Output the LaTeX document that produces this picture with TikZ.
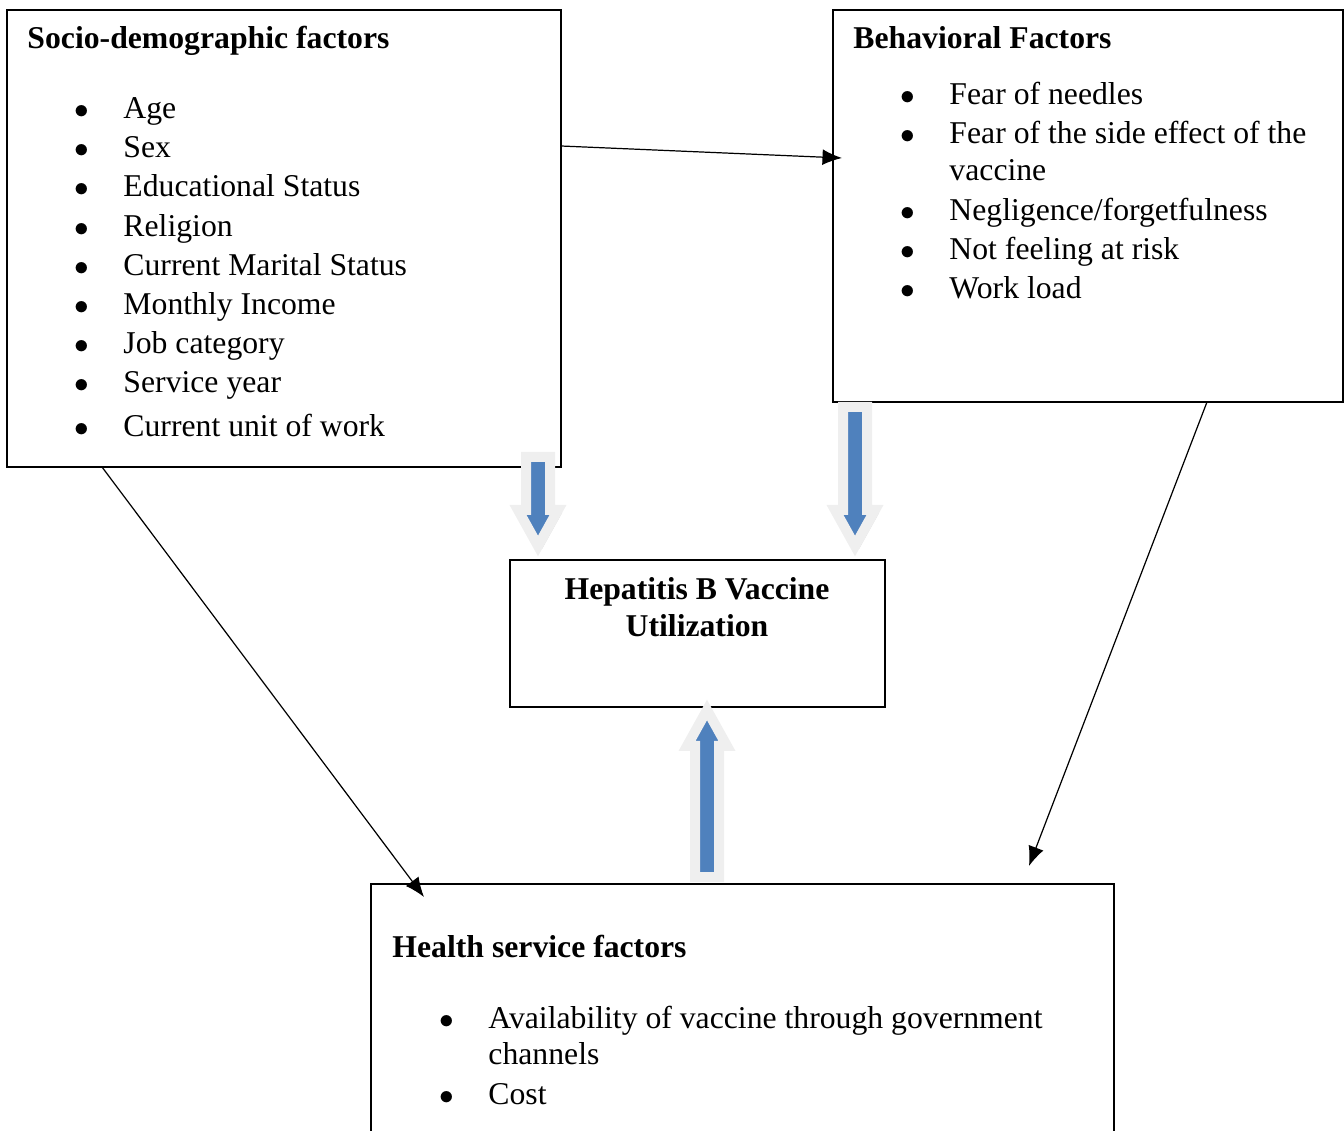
\documentclass[tikz,border=0pt]{standalone}
\usepackage{fontspec}
\setmainfont{Liberation Serif}
\usepackage{xcolor}
\usetikzlibrary{arrows.meta,positioning,calc}
\definecolor{mblue}{HTML}{4F81BD}
\definecolor{mgrey}{HTML}{EFEFEF}
\newcommand{\pxu}{0.41pt}
\tikzstyle{l2}=[line width=0.6pt]
\tikzstyle{box}=[rectangle, draw=black, l2, inner sep=0pt]
\tikzstyle{txt}=[anchor=base west, inner sep=0pt, font=\fontsize{13}{15}\selectfont]
\tikzstyle{ttl}=[txt, font=\fontsize{13}{15}\selectfont\bfseries]
\tikzstyle{bul}=[anchor=base, inner sep=0pt, font=\fontsize{12}{14}\selectfont]
\tikzstyle{conn}=[line width=0.5pt, -{Latex[length=8pt,width=6.5pt]}]
\tikzstyle{blk}=[fill=mblue, draw=mgrey, line width=4.1pt, line join=miter]
\tikzstyle{blkshadow}=[fill=black, opacity=0.15]

\begin{document}
\begin{tikzpicture}[x=\pxu, y=-\pxu]
    \useasboundingbox (0,0) rectangle (1344,1131);
    \clip (0,0) rectangle (1344,1131);

    % boxes
    \node[box, minimum width=554*\pxu, minimum height=457*\pxu] at (284,238.5) (socio) {};
    \node[box, minimum width=510*\pxu, minimum height=392*\pxu] at (1088,206) (behav) {};
    \node[box, minimum width=375*\pxu, minimum height=147*\pxu] at (697.5,633.5) (hepb) {};
    \node[box, minimum width=743*\pxu, minimum height=260*\pxu] at (742.5,1014) (health) {};

    % socio-demographic factors
    \node[ttl] at (27,49) (socioT) {Socio-demographic factors};
    \foreach \t/\y [count=\i] in {Age/119, Sex/158, Educational Status/197, Religion/237,
        Current Marital Status/276, Monthly Income/315, Job category/354,
        Service year/393, Current unit of work/437} {
        \node[bul] at (82,\y) (sb\i) {$\bullet$};
        \node[txt] at (123,\y) (si\i) {\t};
    }

    % behavioral factors
    \node[ttl] at (853,49) (behavT) {Behavioral Factors};
    \foreach \t/\y [count=\i] in {Fear of needles/105, Fear of the side effect of the/144,
        {Negligence/forgetfulness}/221, Not feeling at risk/260, Work load/299} {
        \node[bul] at (908,\y) (bb\i) {$\bullet$};
        \node[txt] at (949,\y) (bi\i) {\t};
    }
    \node[txt] at (949,181) (bi2b) {vaccine};

    % outcome
    \node[ttl, anchor=base] at (697,600) (hepT1) {Hepatitis B Vaccine};
    \node[ttl, anchor=base] at (697,637) (hepT2) {Utilization};

    % health service factors
    \node[ttl] at (392,957) (healthT) {Health service factors};
    \node[bul] at (447,1028) (hb1) {$\bullet$};
    \node[txt] at (488,1028) (hi1) {Availability of vaccine through government};
    \node[txt] at (488,1064) (hi1b) {channels};
    \node[bul] at (447,1104) (hb2) {$\bullet$};
    \node[txt] at (488,1104) (hi2) {Cost};

    % thin connectors
    \coordinate (c1) at (561,146);
    \coordinate (c2) at (842,158);
    \coordinate (c3) at (102,467);
    \coordinate (c4) at (424,897);
    \coordinate (c5) at (1207,402);
    \coordinate (c6) at (1029,866);
    \draw[conn] (c1) -- (c2);
    \draw[conn] (c3) -- (c4);
    \draw[conn] (c5) -- (c6);

    % block arrows
    \foreach \x/\a/\b/\s in {538/457/546/1, 855/407/546/1, 707/877/710/-1} {
        \path[blkshadow] ({\x-12+4},{\a+3}) -- ({\x-12+4},{\b-\s*36+3}) -- ({\x-20+4},{\b-\s*36+3})
            -- ({\x+4},{\b+3}) -- ({\x+20+4},{\b-\s*36+3}) -- ({\x+12+4},{\b-\s*36+3})
            -- ({\x+12+4},{\a+3}) -- cycle;
        \path[blk] ({\x-12},\a) -- ({\x-12},{\b-\s*36}) -- ({\x-20},{\b-\s*36}) -- (\x,\b)
            -- ({\x+20},{\b-\s*36}) -- ({\x+12},{\b-\s*36}) -- ({\x+12},\a) -- cycle;
    }
\end{tikzpicture}
\end{document}
